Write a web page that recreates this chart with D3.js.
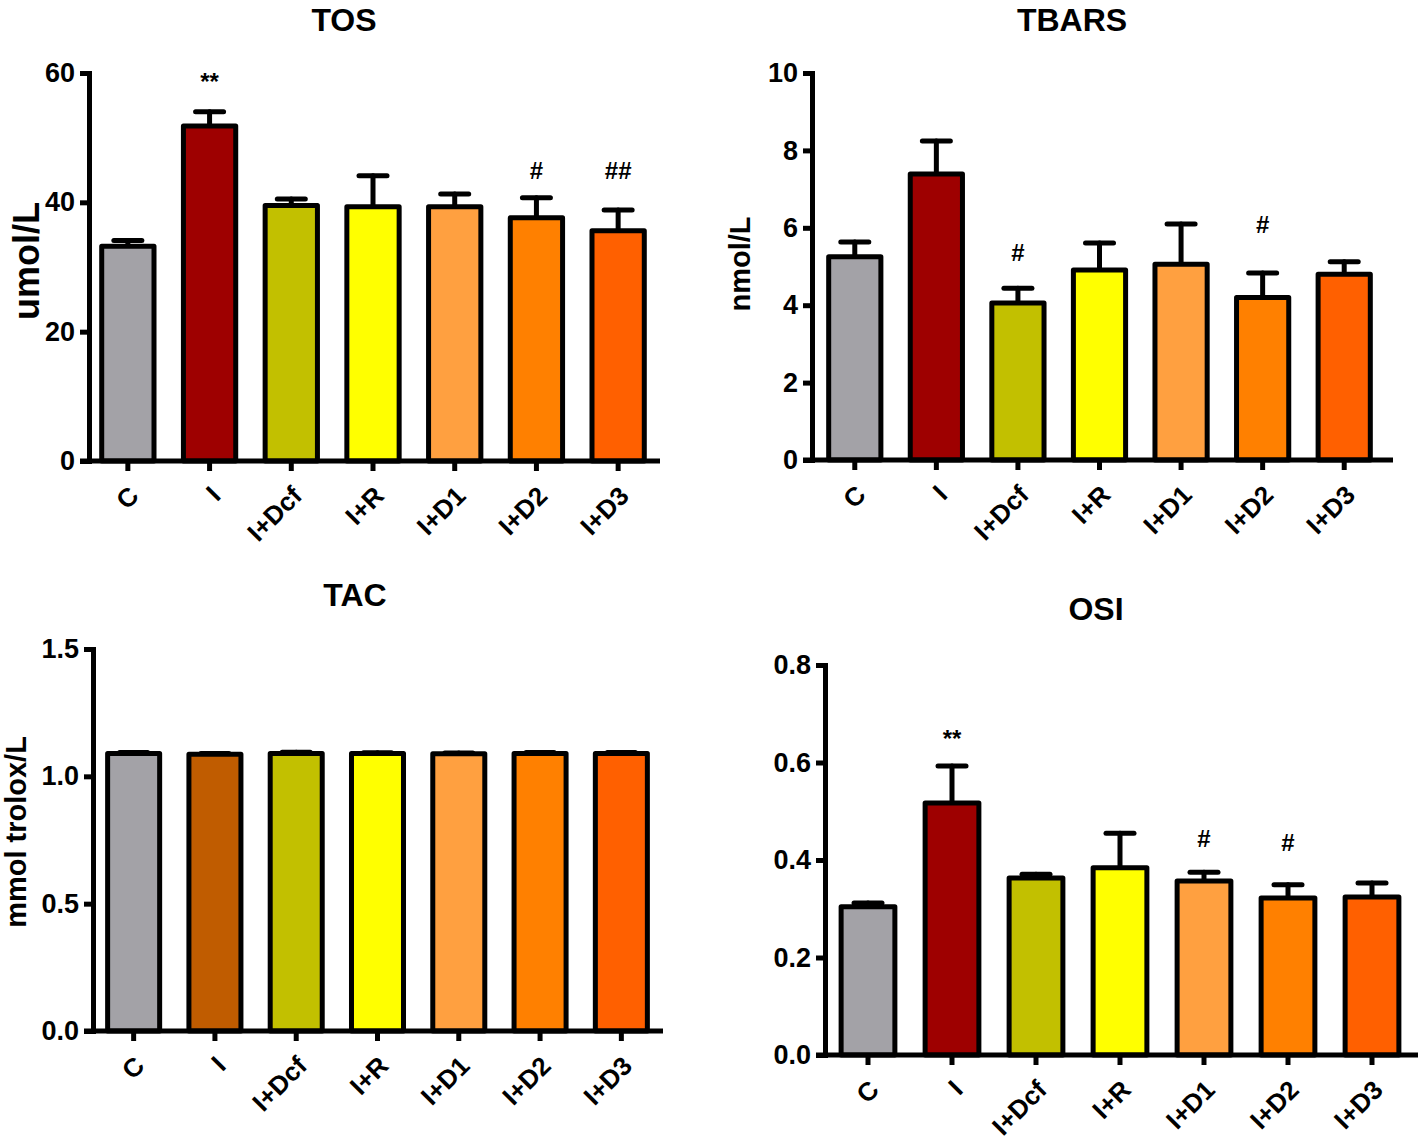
<!DOCTYPE html>
<html>
<head>
<meta charset="utf-8">
<title>Oxidative stress panels</title>
<script src="https://cdn.jsdelivr.net/npm/d3@7"></script>
<style>
  body { margin: 0; background: #fff; }
  svg { display: block; font-family: "Liberation Sans", Arial, sans-serif; font-weight: bold; }
</style>
</head>
<body>
<script>
// groups on the x axis
var categories = ["C", "I", "I+Dcf", "I+R", "I+D1", "I+D2", "I+D3"];
var barColors = ["#a3a2a7", "#9e0000", "#c2c000", "#ffff00", "#ffa040", "#ff8000", "#ff6000"];
var tacColors = ["#a3a2a7", "#c05c00", "#c2c000", "#ffff00", "#ffa040", "#ff8000", "#ff6000"];

// TOS (umol/L): mean and top of error bar
var tosMean = [33.2, 51.8, 39.5, 39.3, 39.3, 37.6, 35.6];
var tosTop  = [34.1, 54.0, 40.5, 44.1, 41.3, 40.7, 38.8];
var tosMarks = ["", "**", "", "", "", "#", "##"];
var tosMarkAt = [0, 59.7, 0, 0, 0, 45.0, 45.0];
var tosTicks = [0, 20, 40, 60];

// TBARS (nmol/L)
var tbarsMean = [5.25, 7.39, 4.06, 4.91, 5.06, 4.20, 4.80];
var tbarsTop  = [5.63, 8.24, 4.44, 5.61, 6.10, 4.83, 5.12];
var tbarsMarks = ["", "", "#", "", "", "#", ""];
var tbarsMarkAt = [0, 0, 5.36, 0, 0, 6.08, 0];
var tbarsTicks = [0, 2, 4, 6, 8, 10];

// TAC (mmol trolox/L)
var tacMean = [1.090, 1.087, 1.090, 1.090, 1.089, 1.090, 1.090];
var tacTop  = [1.094, 1.090, 1.095, 1.093, 1.092, 1.094, 1.094];
var tacMarks = ["", "", "", "", "", "", ""];
var tacMarkAt = [0, 0, 0, 0, 0, 0, 0];
var tacTicks = [0.0, 0.5, 1.0, 1.5];

// OSI
var osiMean = [0.304, 0.517, 0.363, 0.384, 0.357, 0.322, 0.324];
var osiTop  = [0.312, 0.593, 0.371, 0.455, 0.375, 0.349, 0.353];
var osiMarks = ["", "**", "", "", "#", "#", ""];
var osiMarkAt = [0, 0.663, 0, 0, 0.445, 0.437, 0];
var osiTicks = [0.0, 0.2, 0.4, 0.6, 0.8];

var svg = d3.select("body").append("svg")
    .attr("width", 1418)
    .attr("height", 1142);

function drawPanel(p) {
    var g = svg.append("g");

    var y = d3.scaleLinear()
        .domain([0, d3.max(p.ticks)])
        .range([p.bottom, p.top]);

    var x = d3.scaleBand()
        .domain(categories)
        .range([p.left, p.right])
        .paddingInner(0.36)
        .paddingOuter(0.18);

    var rows = categories.map(function (c, i) {
        return { cat: c, mean: p.mean[i], top: p.errTop[i], mark: p.marks[i], markAt: p.markAt[i], color: p.colors[i] };
    });

    // error bars (drawn first, bar outline covers the base)
    var eb = g.append("g").attr("stroke", "#000").attr("stroke-width", 5).attr("stroke-linecap", "round");
    eb.selectAll(".stem").data(rows).enter().append("line")
        .attr("x1", function (d) { return x(d.cat) + x.bandwidth() / 2; })
        .attr("x2", function (d) { return x(d.cat) + x.bandwidth() / 2; })
        .attr("y1", function (d) { return y(d.mean); })
        .attr("y2", function (d) { return y(d.top); });
    eb.selectAll(".cap").data(rows).enter().append("line")
        .attr("x1", function (d) { return x(d.cat) + x.bandwidth() / 2 - 14; })
        .attr("x2", function (d) { return x(d.cat) + x.bandwidth() / 2 + 14; })
        .attr("y1", function (d) { return y(d.top); })
        .attr("y2", function (d) { return y(d.top); });

    // bars
    g.append("g").selectAll("rect").data(rows).enter().append("rect")
        .attr("x", function (d) { return x(d.cat); })
        .attr("width", x.bandwidth())
        .attr("y", function (d) { return y(d.mean); })
        .attr("height", function (d) { return y(0) - y(d.mean); })
        .attr("fill", function (d) { return d.color; })
        .attr("stroke", "#000")
        .attr("stroke-width", 5)
        .attr("stroke-linejoin", "round");

    // significance marks
    g.append("g").selectAll("text").data(rows.filter(function (d) { return d.mark; })).enter().append("text")
        .attr("x", function (d) { return x(d.cat) + x.bandwidth() / 2; })
        .attr("y", function (d) { return y(d.markAt); })
        .attr("dy", function (d) { return d.mark[0] === "*" ? "0.62em" : "0.36em"; })
        .attr("text-anchor", "middle")
        .attr("font-size", 24)
        .text(function (d) { return d.mark; });

    // y axis
    var yAxis = g.append("g")
        .attr("transform", "translate(" + p.axisX + ",0)")
        .call(d3.axisLeft(y).tickValues(p.ticks).tickFormat(p.fmt).tickSize(9).tickPadding(5));
    yAxis.select(".domain").attr("stroke-width", 5);
    yAxis.selectAll(".tick line").attr("stroke-width", 5);
    yAxis.selectAll("text").attr("font-size", 27).attr("fill", "#000")
        .attr("font-family", "'Liberation Sans', Arial, sans-serif").attr("font-weight", "bold");

    // x axis
    var xAxis = g.append("g")
        .attr("transform", "translate(0," + p.bottom + ")")
        .call(d3.axisBottom(x).tickSize(10).tickSizeOuter(0));
    xAxis.select(".domain").remove();
    xAxis.append("line")
        .attr("x1", p.axisX - 9).attr("x2", p.axisEnd)
        .attr("stroke", "#000").attr("stroke-width", 5);
    xAxis.selectAll(".tick line").attr("stroke-width", 5);
    xAxis.selectAll("text")
        .attr("x", 0).attr("y", 0).attr("dy", "0.35em")
        .attr("transform", "translate(6,30) rotate(-45)")
        .attr("text-anchor", "end")
        .attr("font-size", 26).attr("fill", "#000")
        .attr("font-family", "'Liberation Sans', Arial, sans-serif").attr("font-weight", "bold");

    // title
    g.append("text")
        .attr("x", p.titleX).attr("y", p.titleY)
        .attr("text-anchor", "middle")
        .attr("font-size", 32)
        .text(p.title);

    if (p.yLabel) {
        g.append("text")
            .attr("transform", "translate(" + p.yLabelX + "," + p.yLabelY + ") rotate(-90)")
            .attr("dy", "0.35em")
            .attr("text-anchor", "middle")
            .attr("font-size", p.yLabelSize)
            .text(p.yLabel);
    }
}

drawPanel({
    title: "TOS", titleX: 344, titleY: 31,
    mean: tosMean, errTop: tosTop, marks: tosMarks, markAt: tosMarkAt, colors: barColors,
    ticks: tosTicks, fmt: d3.format("d"),
    top: 73, bottom: 461, left: 87, right: 659, axisX: 89, axisEnd: 660,
    yLabel: "umol/L", yLabelX: 26, yLabelY: 261, yLabelSize: 36
});

drawPanel({
    title: "TBARS", titleX: 1072, titleY: 31,
    mean: tbarsMean, errTop: tbarsTop, marks: tbarsMarks, markAt: tbarsMarkAt, colors: barColors,
    ticks: tbarsTicks, fmt: d3.format("d"),
    top: 73, bottom: 460, left: 814, right: 1385, axisX: 812, axisEnd: 1393,
    yLabel: "nmol/L", yLabelX: 740, yLabelY: 264, yLabelSize: 29
});

drawPanel({
    title: "TAC", titleX: 355, titleY: 606,
    mean: tacMean, errTop: tacTop, marks: tacMarks, markAt: tacMarkAt, colors: tacColors,
    ticks: tacTicks, fmt: d3.format(".1f"),
    top: 649, bottom: 1031, left: 93, right: 662, axisX: 93, axisEnd: 663,
    yLabel: "mmol trolox/L", yLabelX: 16, yLabelY: 832, yLabelSize: 29
});

drawPanel({
    title: "OSI", titleX: 1096, titleY: 620,
    mean: osiMean, errTop: osiTop, marks: osiMarks, markAt: osiMarkAt, colors: barColors,
    ticks: osiTicks, fmt: d3.format(".1f"),
    top: 665, bottom: 1055, left: 826, right: 1414, axisX: 825, axisEnd: 1418,
    yLabel: null
});
</script>
</body>
</html>
